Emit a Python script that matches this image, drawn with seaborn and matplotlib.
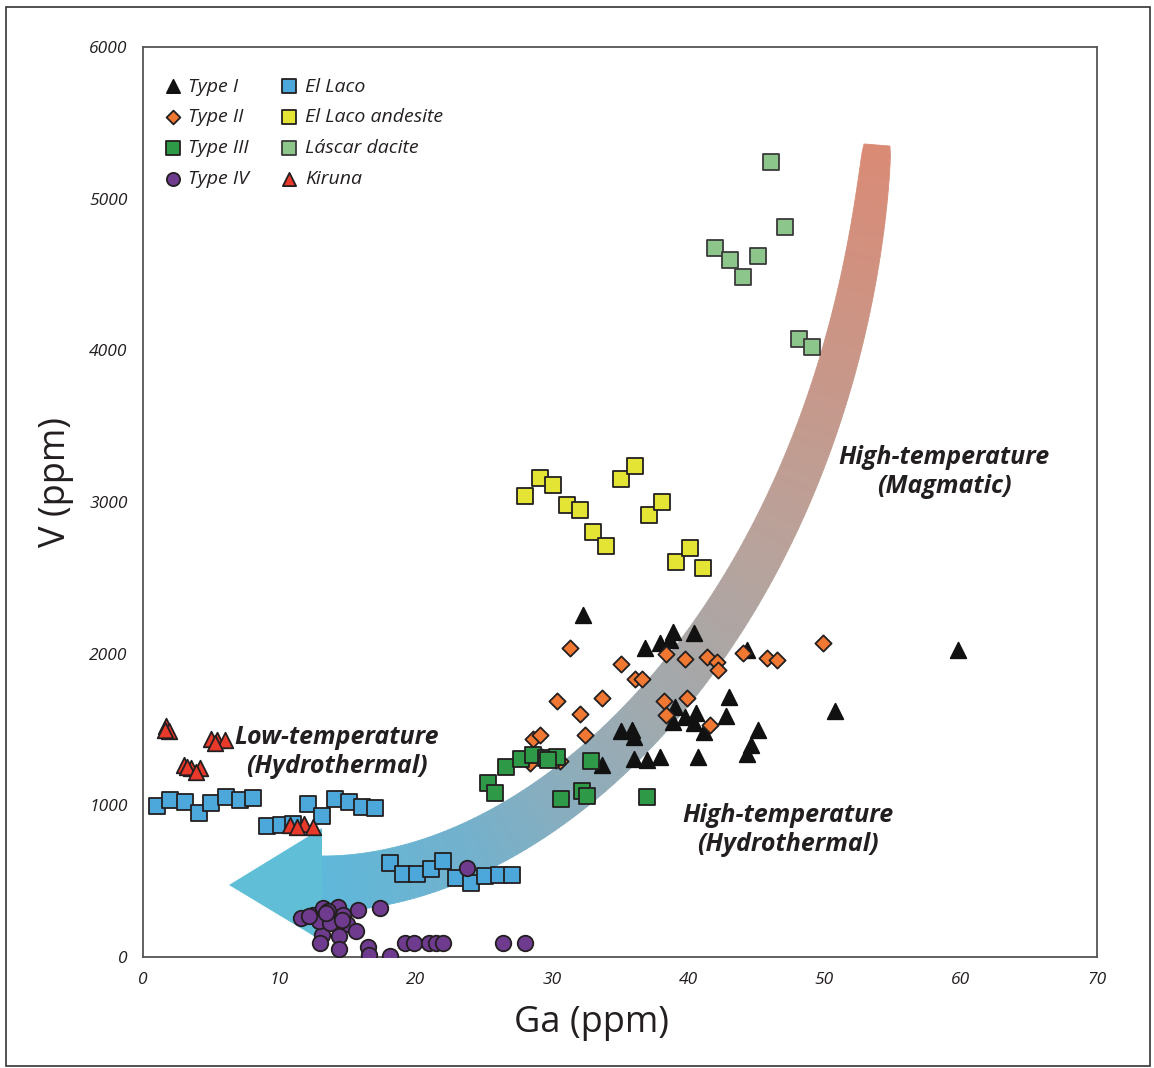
import numpy as np
import pandas as pd
import matplotlib
matplotlib.use("Agg")
import matplotlib.pyplot as plt
import seaborn as sns
from matplotlib.collections import PolyCollection
from matplotlib.colors import LinearSegmentedColormap
from matplotlib.patches import Polygon, Rectangle

# ---------------- data (Ga ppm, V ppm) ----------------
type1_ga = [32.3, 36.8, 37.9, 38.9, 38.7, 40.4, 44.3, 59.8, 50.8, 43.0, 42.8, 45.1, 44.6, 44.3,
            40.7, 35.1, 35.9, 36.0, 39.0, 39.8, 40.6, 38.9, 40.4, 41.2, 33.7, 36.0, 37.0, 37.9]
type1_v = [2255, 2035, 2070, 2140, 2090, 2135, 2025, 2025, 1625, 1715, 1590, 1495, 1400, 1340,
           1320, 1490, 1495, 1450, 1650, 1580, 1610, 1550, 1545, 1485, 1265, 1305, 1300, 1320]

type2_ga = [31.3, 35.1, 36.1, 36.6, 30.4, 33.7, 32.1, 32.4, 28.6, 29.1, 28.4, 30.6, 38.4, 39.8,
            41.4, 42.1, 42.2, 44.0, 45.8, 46.5, 49.9, 38.2, 39.9, 38.4, 41.6, 29.3, 30.3]
type2_v = [2040, 1935, 1830, 1830, 1690, 1705, 1600, 1465, 1435, 1465, 1280, 1290, 2000, 1965,
           1975, 1945, 1890, 2005, 1970, 1955, 2070, 1685, 1710, 1595, 1530, 1320, 1300]

type3_ga = [25.3, 25.8, 26.6, 27.7, 28.6, 29.6, 30.4, 29.7, 32.9, 30.7, 32.2, 32.6, 37.0]
type3_v = [1150, 1080, 1255, 1305, 1330, 1315, 1320, 1300, 1290, 1040, 1095, 1060, 1055]

type4_ga = [11.6, 12.5, 13.2, 14.3, 15.8, 17.4, 13.2, 14.0, 14.7, 15.0, 15.6, 13.1, 14.4, 13.0,
            14.4, 16.5, 16.6, 18.1, 19.2, 19.9, 21.0, 21.5, 22.0, 26.4, 28.0, 23.8, 12.9, 13.7,
            14.6, 13.6, 12.2, 13.4]
type4_v = [255, 275, 320, 330, 310, 320, 265, 255, 275, 220, 170, 145, 140, 90,
           50, 65, 15, 5, 95, 95, 90, 90, 90, 90, 90, 590, 235, 225,
           245, 305, 270, 290]

ellaco_ga = [1.0, 2.0, 3.1, 4.1, 5.0, 6.1, 7.1, 8.1, 9.1, 10.1, 11.0, 12.1, 13.1, 14.1, 15.1,
             16.1, 17.0, 18.1, 19.1, 20.1, 21.1, 22.0, 23.0, 24.1, 25.1, 26.1, 27.1]
ellaco_v = [995, 1035, 1020, 950, 1015, 1055, 1035, 1050, 865, 870, 880, 1010, 930, 1045, 1025,
            990, 985, 620, 545, 550, 580, 630, 520, 485, 535, 540, 540]

andesite_ga = [28.0, 29.1, 30.1, 31.1, 32.1, 33.0, 34.0, 35.1, 36.1, 37.1, 38.1, 39.1, 40.1, 41.1]
andesite_v = [3040, 3155, 3110, 2980, 2945, 2800, 2710, 3150, 3235, 2915, 3000, 2605, 2695, 2565]

lascar_ga = [46.1, 47.1, 42.0, 43.1, 45.1, 44.0, 48.1, 49.1]
lascar_v = [5240, 4810, 4675, 4595, 4620, 4485, 4075, 4020]

kiruna_ga = [1.7, 1.9, 1.6, 5.0, 5.4, 6.0, 5.3, 3.0, 3.5, 4.2, 3.2, 3.9, 10.8, 11.8, 12.5, 11.3]
kiruna_v = [1520, 1490, 1495, 1440, 1430, 1430, 1410, 1265, 1245, 1245, 1255, 1220, 870, 880, 860, 860]

x_ticks = [0, 10, 20, 30, 40, 50, 60, 70]
y_ticks = [0, 1000, 2000, 3000, 4000, 5000, 6000]

# ---------------- figure ----------------
sns.set_theme(style="white")
plt.rcParams["font.family"] = ["Open Sans", "DejaVu Sans"]
TXT = "#231F20"

W, H = 1154, 1068
fig = plt.figure(figsize=(W / 100, H / 100), dpi=100)
L, R, T, B = 143, 1097, 47, 957
ax = fig.add_axes([L / W, 1 - B / H, (R - L) / W, (B - T) / H])
ax.set_xlim(0, 70)
ax.set_ylim(0, 6000)


def p2d(px, py):
    return (np.asarray(px) - L) / (R - L) * 70, (B - np.asarray(py)) / (B - T) * 6000


# ---------------- curved gradient arrow (decoration) ----------------
P0, P1, P2, P3 = map(np.array, [(877, 145), (840, 600), (560, 884), (320, 884)])
t = np.linspace(0, 1, 160)[:, None]
curve = (1 - t) ** 3 * P0 + 3 * (1 - t) ** 2 * t * P1 + 3 * (1 - t) * t ** 2 * P2 + t ** 3 * P3
deriv = 3 * (1 - t) ** 2 * (P1 - P0) + 6 * (1 - t) * t * (P2 - P1) + 3 * t ** 2 * (P3 - P2)
tang = deriv / np.linalg.norm(deriv, axis=1, keepdims=True)
norm = np.column_stack([-tang[:, 1], tang[:, 0]])
width = 26 + 30 * np.sqrt(t[:, 0])
e1 = curve + norm * width[:, None] / 2
e2 = curve - norm * width[:, None] / 2
cmap = LinearSegmentedColormap.from_list(
    "arr", [(0, "#D98B76"), (0.35, "#B7A39C"), (0.55, "#9EAAB0"), (0.8, "#72B1CD"), (1.0, "#5EB8DA")])
quads, cols = [], []
for i in range(len(t) - 1):
    q = np.array([e1[i], e1[i + 1], e2[i + 1], e2[i]])
    qx, qy = p2d(q[:, 0], q[:, 1])
    quads.append(np.column_stack([qx, qy]))
    cols.append(cmap(t[i, 0]))
pc = PolyCollection(quads, facecolors=cols, edgecolors=cols, linewidths=0.6, zorder=1)
ax.add_collection(pc)
hx, hy = p2d([322, 322, 229], [828, 941, 885])
ax.add_patch(Polygon(np.column_stack([hx, hy]), closed=True, facecolor="#60BFD7",
                     edgecolor="none", zorder=1))

# ---------------- scatter groups ----------------
groups = [
    ("Type I", type1_ga, type1_v, "^", "#111111", "#111111", 125),
    ("Type II", type2_ga, type2_v, "D", "#F07832", "#231F20", 68),
    ("Type III", type3_ga, type3_v, "s", "#2E9A47", "#231F20", 125),
    ("El Laco", ellaco_ga, ellaco_v, "s", "#4CA8DA", "#231F20", 125),
    ("Type IV", type4_ga, type4_v, "o", "#6F3B8F", "#231F20", 125),
    ("El Laco andesite", andesite_ga, andesite_v, "s", "#E3E434", "#231F20", 125),
    ("Láscar dacite", lascar_ga, lascar_v, "s", "#8DC68B", "#3a3a3a", 125),
    ("Kiruna", kiruna_ga, kiruna_v, "^", "#E8392B", "#231F20", 125),
]
for name, gx, gy, mk, fc, ec, s in groups:
    df = pd.DataFrame({"Ga": gx, "V": gy})
    sns.scatterplot(data=df, x="Ga", y="V", marker=mk, color=fc, edgecolor=ec,
                    linewidth=1.3, s=s, label=name, ax=ax, zorder=3)

handles, labels = ax.get_legend_handles_labels()
order = ["Type I", "Type II", "Type III", "Type IV", "El Laco", "El Laco andesite",
         "Láscar dacite", "Kiruna"]
hmap = dict(zip(labels, handles))
leg = ax.legend([hmap[o] for o in order], order, ncol=2, loc="upper left",
                bbox_to_anchor=(0.013, 0.975), frameon=False, fontsize=14,
                labelspacing=0.66, handlelength=1.0, handletextpad=0.3, columnspacing=1.55,
                markerscale=0.85, borderaxespad=0)
for txt in leg.get_texts():
    txt.set_style("italic")
    txt.set_color(TXT)

# ---------------- annotations ----------------
ann = dict(ha="center", va="center", fontsize=18, fontweight="bold", style="italic",
           color=TXT, linespacing=1.25, zorder=4)
ax.text(*p2d(944, 472), "High-temperature\n(Magmatic)", **ann)
ax.text(*p2d(337, 752), "Low-temperature\n(Hydrothermal)", **ann)
ax.text(*p2d(788, 830), "High-temperature\n(Hydrothermal)", **ann)

# ---------------- axes styling ----------------
ax.set_xticks(x_ticks)
ax.set_yticks(y_ticks)
ax.set_xticklabels([str(v) for v in x_ticks])
ax.set_yticklabels([str(v) for v in y_ticks])
for lab in ax.get_xticklabels() + ax.get_yticklabels():
    lab.set_style("italic")
    lab.set_color(TXT)
ax.tick_params(direction="out", length=6, width=1.2, color="#555555", labelsize=12.5, pad=5)
for sp in ax.spines.values():
    sp.set_visible(True)
    sp.set_color("#555555")
    sp.set_linewidth(1.3)
ax.set_xlabel("Ga (ppm)", fontsize=26, color=TXT, labelpad=12)
ax.set_ylabel("V (ppm)", fontsize=26, color=TXT, labelpad=11)
ax.xaxis.label.set_x((592 - L) / (R - L))
ax.yaxis.label.set_y((B - 482) / (B - T))

fig.patches.append(Rectangle((6 / W, 1 - 1066 / H), (1150 - 6) / W, (1066 - 7) / H,
                             transform=fig.transFigure, fill=False, edgecolor="#333333",
                             linewidth=1.2))

fig.savefig("out.png", dpi=100, facecolor="white")
